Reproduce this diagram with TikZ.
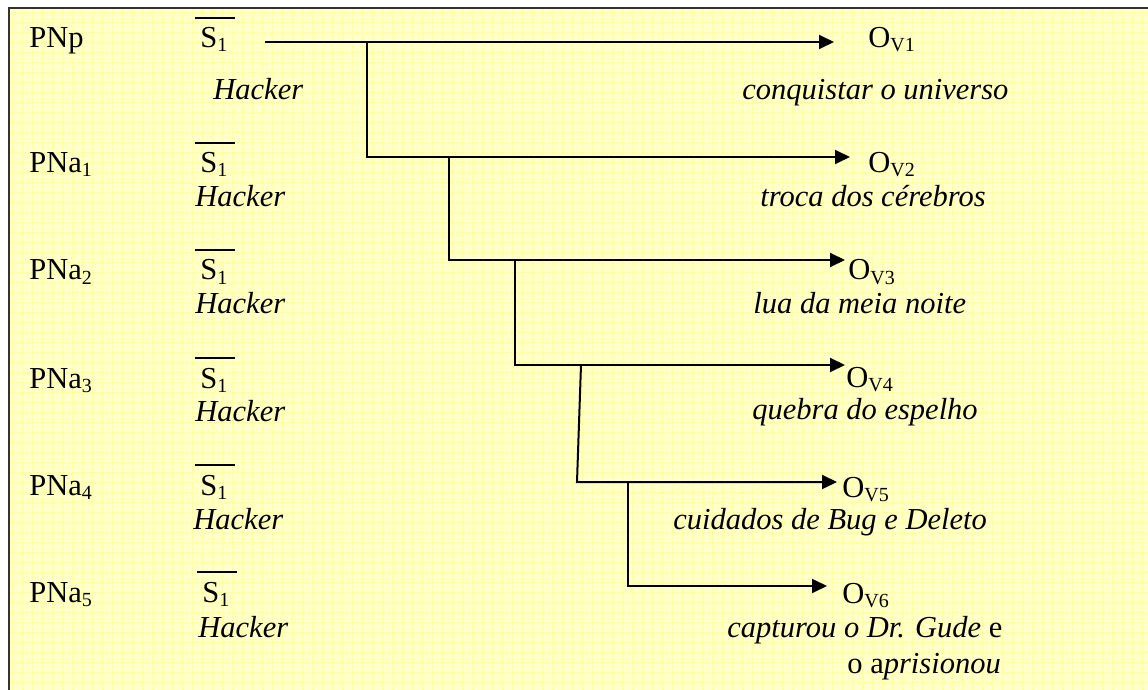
\documentclass[tikz,border=0pt]{standalone}
\usepackage{fontspec}
\setmainfont{Liberation Serif}
\usetikzlibrary{arrows.meta}
\definecolor{paper}{RGB}{255,255,204}
\definecolor{gridc}{RGB}{255,255,165}
\newcommand{\lowsub}[1]{\raisebox{-2pt}{\fontsize{10}{12}\selectfont #1}}
\newcommand{\sbar}{\vbox{\hrule height 1pt\kern 4.5pt\hbox{\kern2.5pt S\lowsub{1}\kern4pt}}}
\newcommand{\ovlab}[1]{O\lowsub{V#1}}
\tikzset{
  txt/.style={anchor=base west, inner sep=0pt, font=\fontsize{15.25}{18}\selectfont},
  itxt/.style={txt, font=\fontsize{15.25}{18}\selectfont\itshape},
  conn/.style={line width=1pt, -{Triangle[length=7.5pt,width=7pt]}},
  gridline/.style={gridc, line width=0.4pt},
  frame/.style={line width=1pt, black!80}
}
\begin{document}
\begin{tikzpicture}[x=0.5pt,y=-0.5pt]
\useasboundingbox (0,0) rectangle (1148,690);
% paper
\fill[paper] (9,8) rectangle (1148,690);
\foreach \gx in {12,22,...,1142} \draw[gridline] (\gx,8) -- (\gx,690);
\foreach \gy in {12,22,...,682} \draw[gridline] (9,\gy) -- (1148,\gy);
\draw[frame] (9,690) -- (9,8) -- (1148,8);

% left column
\node[txt] (pn0) at (29,48) {PNp};
\node[txt] (pn1) at (29,173) {PNa\lowsub{1}};
\node[txt] (pn2) at (29,280) {PNa\lowsub{2}};
\node[txt] (pn3) at (29,388) {PNa\lowsub{3}};
\node[txt] (pn4) at (29,495) {PNa\lowsub{4}};
\node[txt] (pn5) at (29,602) {PNa\lowsub{5}};

\node[txt] (s0) at (195,48) {\sbar};
\node[txt] (s1) at (195,173) {\sbar};
\node[txt] (s2) at (195,280) {\sbar};
\node[txt] (s3) at (195,388) {\sbar};
\node[txt] (s4) at (195,495) {\sbar};
\node[txt] (s5) at (197,602) {\sbar};

\node[itxt] (h0) at (213,100) {Hacker};
\node[itxt] (h1) at (195,207) {Hacker};
\node[itxt] (h2) at (195,314) {Hacker};
\node[itxt] (h3) at (195,422) {Hacker};
\node[itxt] (h4) at (193,530) {Hacker};
\node[itxt] (h5) at (198,637) {Hacker};

% right column
\node[txt] (ov1) at (868,48) {\ovlab{1}};
\node[txt] (ov2) at (868,173) {\ovlab{2}};
\node[txt] (ov3) at (848,280) {\ovlab{3}};
\node[txt] (ov4) at (846,387) {\ovlab{4}};
\node[txt] (ov5) at (842,497) {\ovlab{5}};
\node[txt] (ov6) at (842,603) {\ovlab{6}};

\node[itxt] (d1) at (742,100) {conquistar o universo};
\node[itxt] (d2) at (760,207) {troca dos cérebros};
\node[itxt] (d3) at (753,314) {lua da meia noite};
\node[itxt] (d4) at (752,420) {quebra do espelho};
\node[itxt] (d5) at (673,530) {cuidados de Bug e Deleto};
\node[txt] (d6) at (727,637) {\textit{capturou o Dr. Gude} e};
\node[txt] (d7) at (847,673) {o a\textit{prisionou}};

% connector coordinates
\coordinate (a0) at (265,42);
\coordinate (t1) at (834,42);
\coordinate (j1) at (367,42);
\coordinate (t2) at (850,157);
\coordinate (j2) at (449,157);
\coordinate (t3) at (845,260);
\coordinate (j3) at (515,260);
\coordinate (t4) at (845,365);
\coordinate (j4) at (581,365);
\coordinate (k4) at (577,482);
\coordinate (t5) at (837,482);
\coordinate (j5) at (628,482);
\coordinate (t6) at (827,586);

\draw[conn] (a0) -- (t1);
\draw[conn] (j1) |- (t2);
\draw[conn] (j2) |- (t3);
\draw[conn] (j3) |- (t4);
\draw[conn] (j4) -- (k4) -- (t5);
\draw[conn] (j5) |- (t6);
\end{tikzpicture}
\end{document}
